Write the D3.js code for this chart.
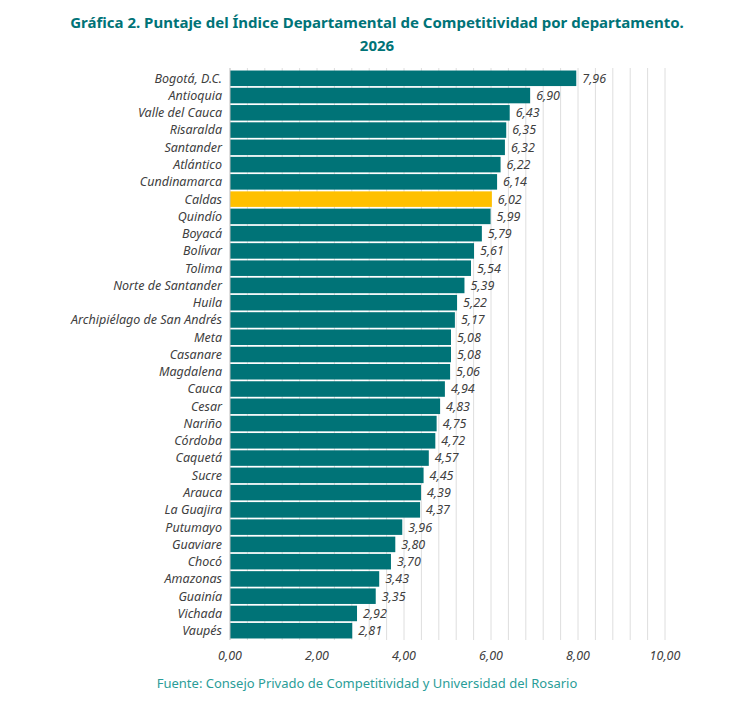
<!DOCTYPE html>
<html><head><meta charset="utf-8">
<script src="https://cdn.jsdelivr.net/npm/d3@7"></script>
<style>body{margin:0;background:#fff;font-family:"Noto Sans",sans-serif}</style>
</head><body>
<svg id="chart" width="754" height="718"></svg>
<script>
var departments = ["Bogotá, D.C.","Antioquia","Valle del Cauca","Risaralda","Santander","Atlántico","Cundinamarca","Caldas","Quindío","Boyacá","Bolívar","Tolima","Norte de Santander","Huila","Archipiélago de San Andrés","Meta","Casanare","Magdalena","Cauca","Cesar","Nariño","Córdoba","Caquetá","Sucre","Arauca","La Guajira","Putumayo","Guaviare","Chocó","Amazonas","Guainía","Vichada","Vaupés"];
var scores = [7.96,6.90,6.43,6.35,6.32,6.22,6.14,6.02,5.99,5.79,5.61,5.54,5.39,5.22,5.17,5.08,5.08,5.06,4.94,4.83,4.75,4.72,4.57,4.45,4.39,4.37,3.96,3.80,3.70,3.43,3.35,2.92,2.81];
var highlight = "Caldas";
var xTicks = [0,2,4,6,8,10];

var svg = d3.select("#chart");
var teal = "#007377";

var x = d3.scaleLinear().domain([0, 10]).range([230, 665]);
var y = d3.scaleBand().domain(departments).range([70, 639]).paddingInner(0.1).paddingOuter(0.03);

svg.append("text").attr("x", 377).attr("y", 28).attr("text-anchor", "middle")
  .attr("fill", teal).attr("font-weight", "bold").attr("font-size", 15)
  .text("Gráfica 2. Puntaje del Índice Departamental de Competitividad por departamento.");
svg.append("text").attr("x", 377).attr("y", 51).attr("text-anchor", "middle")
  .attr("fill", teal).attr("font-weight", "bold").attr("font-size", 15).text("2026");

// gridlines every 0.4
svg.append("g").selectAll("line").data(d3.range(1, 26).map(d => d * 0.4))
  .join("line")
  .attr("x1", d => x(d)).attr("x2", d => x(d))
  .attr("y1", 68).attr("y2", 640)
  .attr("stroke", "#dedede").attr("stroke-width", 1);

svg.append("g").selectAll("rect").data(departments).join("rect")
  .attr("x", x(0)).attr("y", d => y(d))
  .attr("width", (d, i) => x(scores[i]) - x(0))
  .attr("height", y.bandwidth())
  .attr("fill", d => d === highlight ? "#ffc000" : teal);

svg.append("line").attr("x1", x(0)).attr("x2", x(0)).attr("y1", 68).attr("y2", 640)
  .attr("stroke", "#bdbdbd");

svg.append("g").selectAll("text").data(departments).join("text")
  .attr("x", x(0) - 8).attr("y", d => y(d) + y.bandwidth() / 2)
  .attr("dy", "0.35em").attr("text-anchor", "end")
  .attr("font-size", 12.5).attr("font-style", "italic").attr("fill", "#404040")
  .text(d => d);

svg.append("g").selectAll("text").data(departments).join("text")
  .attr("x", (d, i) => x(scores[i]) + 6).attr("y", d => y(d) + y.bandwidth() / 2)
  .attr("dy", "0.35em")
  .attr("font-size", 12.5).attr("font-style", "italic").attr("fill", "#404040")
  .text((d, i) => scores[i].toFixed(2).replace(".", ","));

svg.append("g").selectAll("text").data(xTicks).join("text")
  .attr("x", d => x(d)).attr("y", 660).attr("text-anchor", "middle")
  .attr("font-size", 12.5).attr("font-style", "italic").attr("fill", "#404040")
  .text(d => d.toFixed(2).replace(".", ","));

svg.append("text").attr("x", 367).attr("y", 688).attr("text-anchor", "middle")
  .attr("font-size", 13).attr("fill", "#2a9d98")
  .text("Fuente: Consejo Privado de Competitividad y Universidad del Rosario");
</script>
</body></html>
